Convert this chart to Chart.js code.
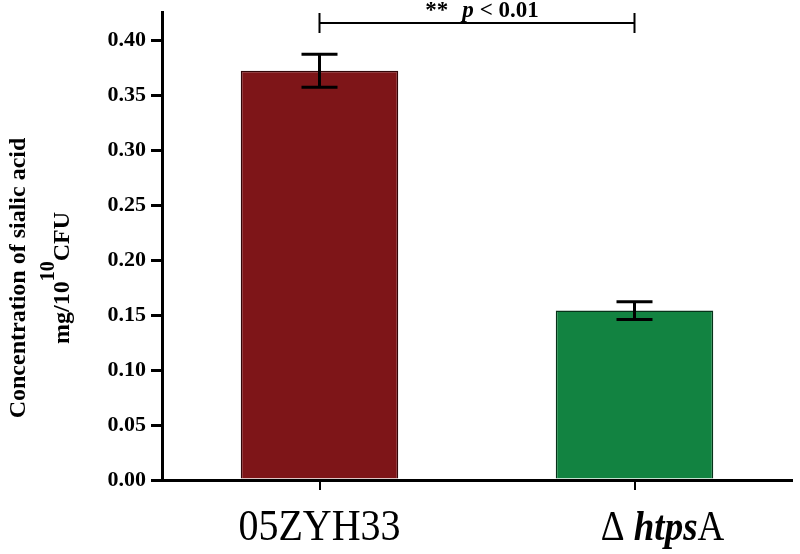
<!DOCTYPE html>
<html>
<head>
<meta charset="utf-8">
<script src="https://cdn.jsdelivr.net/npm/chart.js@4.4.1/dist/chart.umd.min.js"></script>
<style>
	html, body { margin: 0; padding: 0; background: #fff; }
	#wrap { width: 800px; height: 554px; }
</style>
</head>
<body>
<div id="wrap"><canvas id="barChart"></canvas></div>
<script>
// data
const strains = ['05ZYH33', 'ΔhtpsA'];
const sialicMeans = [0.372, 0.154];
const sialicErrors = [0.015, 0.008];
const yTickValues = [0.00, 0.05, 0.10, 0.15, 0.20, 0.25, 0.30, 0.35, 0.40];
const sigText = ['**', 'p', '< 0.01'];
const bracketLevel = 0.4155;

const serif = '"Liberation Serif", "Times New Roman", serif';

// x tick labels, split so that "htps" can be italic
const strainLabelParts = [
	[{ t: '05ZYH33', f: '40px ' }],
	[{ t: 'Δ ', f: '37px ' }, { t: 'htps', f: 'italic bold 37px ' }, { t: 'A', f: '37px ' }]
];
const labelShift = [0, 28];

let extrasPlugin = {
	id: 'extras',
	afterDraw: function(chart) {
		let ctx = chart.ctx;
		let xs = chart.scales.x;
		let ys = chart.scales.y;
		let area = chart.chartArea;
		let bars = chart.getDatasetMeta(0).data;

		ctx.save();
		ctx.strokeStyle = '#000';
		ctx.fillStyle = '#000';

		// error bars
		ctx.lineWidth = 3;
		for (let i = 0; i < bars.length; i++) {
			let x = bars[i].x;
			let yHi = ys.getPixelForValue(sialicMeans[i] + sialicErrors[i]);
			let yLo = ys.getPixelForValue(sialicMeans[i] - sialicErrors[i]);
			ctx.beginPath();
			ctx.moveTo(x, yHi); ctx.lineTo(x, yLo);
			ctx.moveTo(x - 18, yHi); ctx.lineTo(x + 18, yHi);
			ctx.moveTo(x - 18, yLo); ctx.lineTo(x + 18, yLo);
			ctx.stroke();
		}

		// significance bracket
		let x0 = xs.getPixelForValue(0);
		let x1 = xs.getPixelForValue(1);
		let yb = ys.getPixelForValue(bracketLevel);
		ctx.lineWidth = 2;
		ctx.beginPath();
		ctx.moveTo(x0, yb); ctx.lineTo(x1, yb);
		ctx.moveTo(x0, yb - 10); ctx.lineTo(x0, yb + 10);
		ctx.moveTo(x1, yb - 10); ctx.lineTo(x1, yb + 10);
		ctx.stroke();

		let sigFonts = ['bold 23px ', 'italic bold 23px ', 'bold 23px '];
		let gaps = [14, 6, 0];
		let total = 0;
		for (let i = 0; i < sigText.length; i++) {
			ctx.font = sigFonts[i] + serif;
			total += ctx.measureText(sigText[i]).width + gaps[i];
		}
		let sx = (x0 + x1) / 2 - total / 2 + 5;
		ctx.textBaseline = 'alphabetic';
		ctx.textAlign = 'left';
		for (let i = 0; i < sigText.length; i++) {
			ctx.font = sigFonts[i] + serif;
			ctx.fillText(sigText[i], sx, yb - 6);
			sx += ctx.measureText(sigText[i]).width + gaps[i];
		}

		// category labels (a little stretched vertically like the original)
		for (let i = 0; i < strainLabelParts.length; i++) {
			let parts = strainLabelParts[i];
			let w = 0;
			parts.forEach(function(p) {
				ctx.font = p.f + serif;
				w += ctx.measureText(p.t).width;
			});
			let lx = xs.getPixelForValue(i) + labelShift[i] - w / 2;
			ctx.save();
			ctx.translate(0, area.bottom + 60);
			ctx.scale(1, 1.12);
			parts.forEach(function(p) {
				ctx.font = p.f + serif;
				ctx.fillText(p.t, lx, 0);
				lx += ctx.measureText(p.t).width;
			});
			ctx.restore();
		}

		// y axis title (two lines, with superscript)
		let cy = 278;
		ctx.translate(0, cy);
		ctx.rotate(-Math.PI / 2);
		ctx.textAlign = 'center';
		ctx.font = 'bold 24px ' + serif;
		ctx.fillText('Concentration of sialic acid', 0, 25);

		let a = 'mg/10', sup = '10', b = 'CFU';
		ctx.font = 'bold 24px ' + serif;
		let wa = ctx.measureText(a).width;
		let wb = ctx.measureText(b).width;
		ctx.font = 'bold 20px ' + serif;
		let ws = ctx.measureText(sup).width;
		let tx = -(wa + ws + wb) / 2;
		ctx.textAlign = 'left';
		ctx.font = 'bold 24px ' + serif;
		ctx.fillText(a, tx, 69);
		ctx.font = 'bold 20px ' + serif;
		ctx.fillText(sup, tx + wa, 54);
		ctx.font = 'bold 24px ' + serif;
		ctx.fillText(b, tx + wa + ws, 69);

		ctx.restore();
	}
};

let ctx = document.getElementById('barChart');

let barChart = new Chart(ctx, {
	type: 'bar',
	data: {
		labels: strains,
		datasets: [{
			data: sialicMeans,
			backgroundColor: ['rgb(126, 21, 24)', 'rgb(18, 131, 65)'],
			borderColor: ['rgb(50, 6, 8)', 'rgb(6, 50, 25)'],
			borderWidth: 1.5,
			barPercentage: 0.5,
			categoryPercentage: 1.0
		}]
	},
	options: {
		responsive: true,
		maintainAspectRatio: false,
		animation: false,
		layout: {
			padding: { top: 12, right: 8, left: 0, bottom: 0 }
		},
		plugins: {
			legend: { display: false },
			tooltip: { enabled: false }
		},
		scales: {
			x: {
				grid: {
					display: true,
					offset: false,
					drawOnChartArea: false,
					drawTicks: true,
					tickLength: 10,
					color: '#000',
					lineWidth: 2
				},
				border: { display: true, color: '#000', width: 3 },
				ticks: { display: false },
				afterFit: function(scale) {
					scale.height = 74;
				}
			},
			y: {
				min: 0,
				max: 0.4255,
				grid: {
					display: true,
					drawOnChartArea: false,
					drawTicks: true,
					tickLength: 11,
					color: '#000',
					lineWidth: 3
				},
				border: { display: true, color: '#000', width: 3 },
				ticks: {
					color: '#000',
					padding: 5,
					font: { family: serif, size: 22, weight: 'bold' },
					callback: function(value) {
						return value.toFixed(2);
					}
				},
				afterBuildTicks: function(scale) {
					scale.ticks = yTickValues.map(function(v) { return { value: v }; });
				},
				afterFit: function(scale) {
					scale.width = 162;
					scale.paddingTop = 0;
					scale.paddingBottom = 0;
				}
			}
		}
	},
	plugins: [extrasPlugin]
});
</script>
</body>
</html>
